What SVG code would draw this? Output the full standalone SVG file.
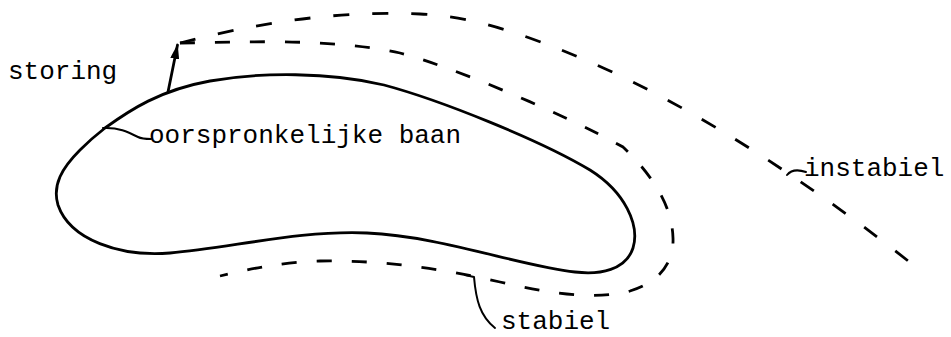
<svg xmlns="http://www.w3.org/2000/svg" width="951" height="337" viewBox="0 0 951 337">
  <defs>
    <marker id="arrow" viewBox="0 0 15 9" refX="14" refY="4.5" markerWidth="15" markerHeight="9" markerUnits="userSpaceOnUse" orient="auto">
      <path d="M0,0 L15,4.5 L0,9 Z" fill="#000"/>
    </marker>
    <style>
      .solid { fill: none; stroke: #000; stroke-width: 2.8; stroke-linecap: round; stroke-linejoin: round; }
      .dash-outer { fill: none; stroke: #000; stroke-width: 2.8; stroke-dasharray: 16 23; stroke-linecap: butt; }
      .dash-inner { fill: none; stroke: #000; stroke-width: 2.8; stroke-dasharray: 15 20; stroke-linecap: butt; }
      .leader { fill: none; stroke: #000; stroke-width: 2; stroke-linecap: round; stroke-linejoin: round; }
      .label { font-family: "Liberation Mono", "Courier New", monospace; font-size: 26px; fill: #000; }
    </style>
  </defs>

  <g id="oorspronkelijke-baan">
    <path class="solid" d="M105,128 C130,110 160,90 210,81 C260,72 330,72 384,85 C440,100 540,140 590,170 C625,192 640,225 633,248 C626,270 600,275 575,272 C520,266 440,236 367,233 C300,230 230,248 170,253 C120,257 70,240 58,205 C52,185 62,168 80,150 C88,142 96,135 105,128 Z"/>
  </g>

  <g id="instabiel-baan">
    <path class="dash-outer" d="M180,43 C250,25 330,10 420,14 C470,16 520,32 590,62 C700,110 820,190 922,272"/>
  </g>

  <g id="stabiel-baan">
    <path class="dash-inner" d="M180,43 C250,42 330,38 400,53 C450,66 560,112 623,147 C645,168 672,200 673,238 C674,262 660,282 630,291 C600,299 560,296 500,282 C440,268 380,260 320,261 C280,262 245,270 220,276"/>
  </g>

  <g id="connectors">
    <path class="solid" d="M168,92 L177.5,45" marker-end="url(#arrow)"/>
    <path class="leader" d="M103,128 C118,127 128,132 138,137 C142,139 146,139 151,139"/>
    <path class="leader" d="M787,175 C791,170 797,169 806,172"/>
    <path class="leader" d="M465,275 L474,277 C476,300 480,316 495,328"/>
  </g>

  <g id="labels">
    <text class="label" x="8" y="79">storing</text>
    <text class="label" x="149" y="143">oorspronkelijke baan</text>
    <text class="label" x="804" y="176">instabiel</text>
    <text class="label" x="501" y="329">stabiel</text>
  </g>
</svg>
